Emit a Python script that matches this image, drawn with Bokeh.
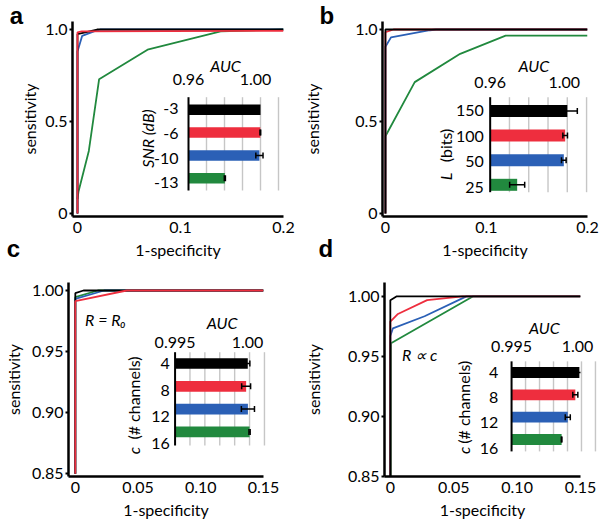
import numpy as np
from bokeh.plotting import figure
from bokeh.models import Range1d, Whisker, ColumnDataSource, TeeHead, FixedTicker
from bokeh.layouts import column, row
from bokeh.embed import file_html
from bokeh.resources import INLINE
from bokeh.core.properties import value

# ------------------------------------------------------------------ data
# panel a : ROC curves for different SNR
a_black_x = [0.0, 0.0, 0.019, 0.2]
a_black_y = [0.0, 0.975, 1.0, 1.0]
a_red_x = [0.0, 0.0, 0.004, 0.2]
a_red_y = [0.0, 0.985, 0.990, 0.993]
a_blue_x = [0.0, 0.0, 0.0013, 0.0045, 0.016, 0.022, 0.2]
a_blue_y = [0.0, 0.88, 0.905, 0.965, 0.99, 1.0, 1.0]
a_green_x = [0.0, 0.001, 0.011, 0.021, 0.068, 0.139, 0.2]
a_green_y = [0.08, 0.12, 0.34, 0.73, 0.89, 0.99, 1.0]
a_snr = ["-3", "-6", "-10", "-13"]
a_auc = [1.0000, 0.9999, 0.9994, 0.9802]
a_err = [0.0, 0.0002, 0.0020, 0.0003]

# panel b : ROC curves for different message lengths
b_black_x = [0.0, 0.0, 0.2]
b_black_y = [0.0, 1.0, 1.0]
b_red_x = [0.0, 0.0, 0.008, 0.2]
b_red_y = [0.0, 0.985, 1.0, 1.0]
b_blue_x = [0.0, 0.0, 0.0055, 0.044, 0.05, 0.2]
b_blue_y = [0.0, 0.906, 0.957, 0.996, 1.0, 1.0]
b_green_x = [0.0, 0.0, 0.029, 0.074, 0.119, 0.2]
b_green_y = [0.0, 0.42, 0.714, 0.868, 0.967, 0.967]
b_len = ["150", "100", "50", "25"]
b_auc = [1.0000, 0.9989, 0.9982, 0.9740]
b_err = [0.0052, 0.0012, 0.0012, 0.0039]

# panel c : R = R0
c_black_x = [0.0, 0.0, 0.0065, 0.15]
c_black_y = [0.85, 0.9978, 1.0, 1.0]
c_red_x = [0.0, 0.0, 0.041, 0.15]
c_red_y = [0.85, 0.9913, 1.0, 1.0]
c_blue_x = [0.0, 0.0, 0.023, 0.15]
c_blue_y = [0.85, 0.9932, 1.0, 1.0]
c_green_x = [0.0, 0.0, 0.018, 0.15]
c_green_y = [0.85, 0.9945, 1.0, 1.0]
c_chan = ["4", "8", "12", "16"]
c_auc = [0.99988, 0.99977, 0.99989, 1.00000]
c_err = [0.00014, 0.00030, 0.00044, 0.00004]

# panel d : R proportional to c
d_black_x = [0.0, 0.0, 0.0051, 0.15]
d_black_y = [0.85, 0.9968, 1.0, 1.0]
d_red_x = [0.0, 0.0, 0.006, 0.029, 0.057, 0.15]
d_red_y = [0.85, 0.979, 0.9853, 0.9968, 1.0, 1.0]
d_blue_x = [0.0, 0.0, 0.002, 0.027, 0.06, 0.15]
d_blue_y = [0.85, 0.967, 0.9733, 0.9834, 1.0, 1.0]
d_green_x = [0.0005, 0.0005, 0.0654, 0.15]
d_green_y = [0.85, 0.961, 1.0, 1.0]
d_chan = ["4", "8", "12", "16"]
d_auc = [0.99985, 0.99956, 0.99902, 0.99858]
d_err = [0.00020, 0.00018, 0.00018, 0.00002]

# ticks
ab_xticks = [0.0, 0.1, 0.2]
ab_xlabels = ["0", "0.1", "0.2"]
ab_yticks = [0.0, 0.5, 1.0]
ab_ylabels = ["0", "0.5", "1.0"]
cd_xticks = [0.0, 0.05, 0.10, 0.15]
cd_xlabels = ["0", "0.05", "0.10", "0.15"]
cd_yticks = [0.85, 0.90, 0.95, 1.00]
cd_ylabels = ["0.85", "0.90", "0.95", "1.00"]
ab_inset_ticks = [0.96, 1.00]
ab_inset_labels = ["0.96", "1.00"]
ab_inset_grid = [0.97, 0.98, 0.99, 1.00, 1.01]
cd_inset_ticks = [0.995, 1.000]
cd_inset_labels = ["0.995", "1.00"]
cd_inset_grid = [0.996, 0.997, 0.998, 0.999, 1.000, 1.001]

BLACK, RED, BLUE, GREEN = "#000000", "#ee2e3e", "#2b60b6", "#21893e"
COLORS = [BLACK, RED, BLUE, GREEN]
FONT = "Lato"
LETTER_FONT = "Liberation Sans"


# ------------------------------------------------------------------ helpers
def make_fig(g, xticks, xlabels, yticks, ylabels, ylab_std, xlab_std, xtick_std):
    p = figure(width=g["w"], height=g["h"], output_backend="svg", toolbar_location=None, title=None,
               x_range=Range1d(*g["xr"]), y_range=Range1d(*g["yr"]),
               min_border_left=g["fl"] - g["ox"], min_border_right=g["ox"] + g["w"] - g["fr"],
               min_border_top=g["ft"] - g["oy"], min_border_bottom=g["oy"] + g["h"] - g["fb"])
    p.xgrid.visible = False
    p.ygrid.visible = False
    p.outline_line_color = None
    p.background_fill_color = "white"
    p.border_fill_color = "white"
    xa, ya = p.xaxis[0], p.yaxis[0]
    xa.ticker = FixedTicker(ticks=xticks)
    ya.ticker = FixedTicker(ticks=yticks)
    xa.major_label_overrides = {t: l for t, l in zip(xticks, xlabels)}
    ya.major_label_overrides = {t: l for t, l in zip(yticks, ylabels)}
    for ax in (xa, ya):
        ax.axis_line_width = 2.5
        ax.axis_line_color = "black"
        ax.major_tick_line_width = 2
        ax.major_tick_line_color = "black"
        ax.minor_tick_line_color = None
        ax.major_tick_in = 0
        ax.major_label_text_font = FONT
        ax.major_label_text_font_size = "16px"
        ax.major_label_text_color = "black"
        ax.axis_label_text_font = FONT
        ax.axis_label_text_font_size = "16px"
        ax.axis_label_text_font_style = "normal"
        ax.axis_label_text_color = "black"
    xa.major_tick_out = 0
    ya.major_tick_out = 3
    xa.major_label_standoff = xtick_std
    ya.major_label_standoff = 2
    xa.axis_label = "1-specificity"
    ya.axis_label = "sensitivity"
    xa.axis_label_standoff = xlab_std
    ya.axis_label_standoff = ylab_std
    return p


def main_xy(g, px, py):
    x0, x1 = g["xr"]
    y0, y1 = g["yr"]
    x = x0 + (px - g["fl"]) / (g["fr"] - g["fl"]) * (x1 - x0)
    y = y1 - (py - g["ft"]) / (g["fb"] - g["ft"]) * (y1 - y0)
    return x, y


def add_note(p, g, px, py, text, size="16px", style="normal", font=FONT, align="center"):
    # free text placed in the main data space; overlay level so it is not clipped by the frame
    x, y = main_xy(g, px, py)
    p.text(x=[x], y=[y], text=[text], text_font=value(font), text_font_size=size,
           text_font_style=style, text_align=align, text_baseline="middle",
           text_color="black", level="overlay")


def add_curves(p, xs_ys_cols):
    for xs, ys, col in xs_ys_cols:
        p.line(xs, ys, line_color=col, line_width=1.8)


def add_inset(p, g, cats, auc, err, s):
    fw = g["fr"] - g["fl"]
    kx = (s["p1"] - s["p0"]) / (s["v1"] - s["v0"])
    xs = s["v0"] - (s["p0"] - g["fl"]) / kx
    xe = xs + fw / kx
    dy, c0 = s["dy"], s["c0"]
    p.extra_x_ranges = {"ix": Range1d(xs, xe)}
    p.extra_y_ranges = {"iy": Range1d(-(g["fb"] - c0) / dy, (c0 - g["ft"]) / dy)}

    def ipx(px):
        return xs + (px - g["fl"]) / kx

    def ipy(py):
        return (c0 - py) / dy

    R = dict(x_range_name="ix", y_range_name="iy", level="overlay")
    yt, yb = ipy(s["ytop"]), ipy(s["ybot"])
    grid = s["grid"]
    p.segment(x0=grid, x1=grid, y0=[yb] * len(grid), y1=[yt] * len(grid),
              line_color="#c6c6c6", line_width=1.4, **R)
    pos = [-i for i in range(len(cats))]
    p.hbar(y=pos, left=s["v0"], right=auc, height=s["bh"] / dy,
           fill_color=COLORS, line_color=None, **R)
    p.segment(x0=[s["v0"]], x1=[s["v0"]], y0=[yb], y1=[yt], line_color="black", line_width=2, **R)
    keep = [i for i in range(len(cats)) if err[i] > 0]
    src = ColumnDataSource(dict(base=[pos[i] for i in keep],
                                lower=[auc[i] - err[i] for i in keep],
                                upper=[auc[i] + err[i] for i in keep]))
    w = Whisker(source=src, base="base", lower="lower", upper="upper", dimension="width",
                line_color="black", line_width=1.5,
                upper_head=TeeHead(size=6, line_width=1.5, line_color="black"),
                lower_head=TeeHead(size=6, line_width=1.5, line_color="black"), **R)
    p.add_layout(w)

    tf = dict(text_font=value(FONT), text_font_size="16px", text_color="black",
              text_baseline="middle")
    p.text(x=s["ticks"], y=[ipy(s["tick_y"])] * len(s["ticks"]), text=s["ticklabels"],
           x_offset=[0, s["last_dx"]], text_align="center", **tf, **R)
    p.text(x=[ipx(s["auc_xy"][0])], y=[ipy(s["auc_xy"][1])], text=["AUC"],
           text_align="center", text_font_style="italic", **tf, **R)
    p.text(x=[s["v0"]] * len(cats),
           y=[ipy(s["lab_y0"] + i * s["lab_dy"]) for i in range(len(cats))],
           text=cats, text_align="right", x_offset=-(s["p0"] - s["lab_right"]), **tf, **R)
    for t, style, py in s["ylabels"]:
        p.text(x=[ipx(s["ylab_x"])], y=[ipy(py)], text=[t], angle=np.pi / 2,
               text_align="center", text_font_style=style, **tf, **R)


# ------------------------------------------------------------------ geometry (page pixels)
ga = dict(ox=0, oy=0, w=300, h=263, fl=72, fr=283, ft=21, fb=216,
          xr=(-0.00485, 0.2), yr=(-0.0163, 1.0435))
gb = dict(ox=300, oy=0, w=299, h=263, fl=377, fr=587, ft=21, fb=216,
          xr=(-0.0029, 0.2), yr=(-0.0163, 1.0435))
gc = dict(ox=0, oy=263, w=300, h=262, fl=63, fr=263, ft=282, fb=476,
          xr=(-0.00544, 0.15), yr=(0.8478, 1.00655))
gd = dict(ox=300, oy=263, w=299, h=262, fl=379, fr=580, ft=275, fb=476,
          xr=(-0.0046, 0.15), yr=(0.85, 1.0115))

sa = dict(v0=0.96, p0=188, v1=1.00, p1=260, c0=109.3, dy=22.8, bh=10.5, ytop=96.7, ybot=190,
          grid=ab_inset_grid, ticks=ab_inset_ticks, ticklabels=ab_inset_labels, tick_y=79,
          last_dx=-5, auc_xy=(225, 65), lab_right=178, lab_y0=108, lab_dy=24.8, ylab_x=147,
          ylabels=[("SNR (dB)", "italic", 138)])
sb = dict(v0=0.96, p0=487.3, v1=1.00, p1=566.3, c0=110.5, dy=24.6, bh=12, ytop=96.7, ybot=191.7,
          grid=ab_inset_grid, ticks=ab_inset_ticks, ticklabels=ab_inset_labels, tick_y=81.7,
          last_dx=-3, auc_xy=(532, 65), lab_right=481, lab_y0=110, lab_dy=25.7, ylab_x=442,
          ylabels=[("L", "italic", 176), ("(bits)", "normal", 145)])
sc = dict(v0=0.995, p0=172.3, v1=1.000, p1=248.7, c0=363, dy=22.8, bh=10.7, ytop=351.7, ybot=445,
          grid=cd_inset_grid, ticks=cd_inset_ticks, ticklabels=cd_inset_labels, tick_y=341.7,
          last_dx=-2, auc_xy=(220.5, 321.7), lab_right=167, lab_y0=363, lab_dy=26.7, ylab_x=130,
          ylabels=[("c", "italic", 450), ("(# channels)", "normal", 397.5)])
sd = dict(v0=0.995, p0=509.3, v1=1.000, p1=581, c0=368.3, dy=23.1, bh=11.3, ytop=356.7, ybot=450,
          grid=cd_inset_grid, ticks=cd_inset_ticks, ticklabels=cd_inset_labels, tick_y=341.7,
          last_dx=-4, auc_xy=(543, 321.7), lab_right=496, lab_y0=368, lab_dy=26.2, ylab_x=460,
          ylabels=[("c", "italic", 449), ("(# channels)", "normal", 399)])

LETTER = dict(size="24px", style="bold", font=LETTER_FONT)

# ------------------------------------------------------------------ panels
pa = make_fig(ga, ab_xticks, ab_xlabels, ab_yticks, ab_ylabels, 3, 4, 5)
add_curves(pa, [(a_green_x, a_green_y, GREEN), (a_blue_x, a_blue_y, BLUE),
                (a_black_x, a_black_y, BLACK), (a_red_x, a_red_y, RED)])
add_inset(pa, ga, a_snr, a_auc, a_err, sa)
add_note(pa, ga, 16, 15, "a", **LETTER)
add_note(pa, ga, 13, 248, "c", **LETTER)

pb = make_fig(gb, ab_xticks, ab_xlabels, ab_yticks, ab_ylabels, 30, 4, 5)
add_curves(pb, [(b_green_x, b_green_y, GREEN), (b_blue_x, b_blue_y, BLUE),
                (b_red_x, b_red_y, RED), (b_black_x, b_black_y, BLACK)])
add_inset(pb, gb, b_len, b_auc, b_err, sb)
add_note(pb, gb, 320, 15, "b", **LETTER)
add_note(pb, gb, 319, 248, "d", **LETTER)

pc = make_fig(gc, cd_xticks, cd_xlabels, cd_yticks, cd_ylabels, 6, 4, 5)
add_curves(pc, [(c_green_x, c_green_y, GREEN), (c_blue_x, c_blue_y, BLUE),
                (c_black_x, c_black_y, BLACK), (c_red_x, c_red_y, RED)])
add_inset(pc, gc, c_chan, c_auc, c_err, sc)
add_note(pc, gc, 80, 318.5, "R = R\u2080", style="italic", align="left")

pd_ = make_fig(gd, cd_xticks, cd_xlabels, cd_yticks, cd_ylabels, 22, 4, 5)
add_curves(pd_, [(d_green_x, d_green_y, GREEN), (d_blue_x, d_blue_y, BLUE),
                 (d_red_x, d_red_y, RED), (d_black_x, d_black_y, BLACK)])
add_inset(pd_, gd, d_chan, d_auc, d_err, sd)
add_note(pd_, gd, 397, 350, "R \u221d c", style="italic", align="left")

layout = column(row(pa, pb), row(pc, pd_))
open("out.html", "w").write(file_html(layout, INLINE, title="ROC curves"))
